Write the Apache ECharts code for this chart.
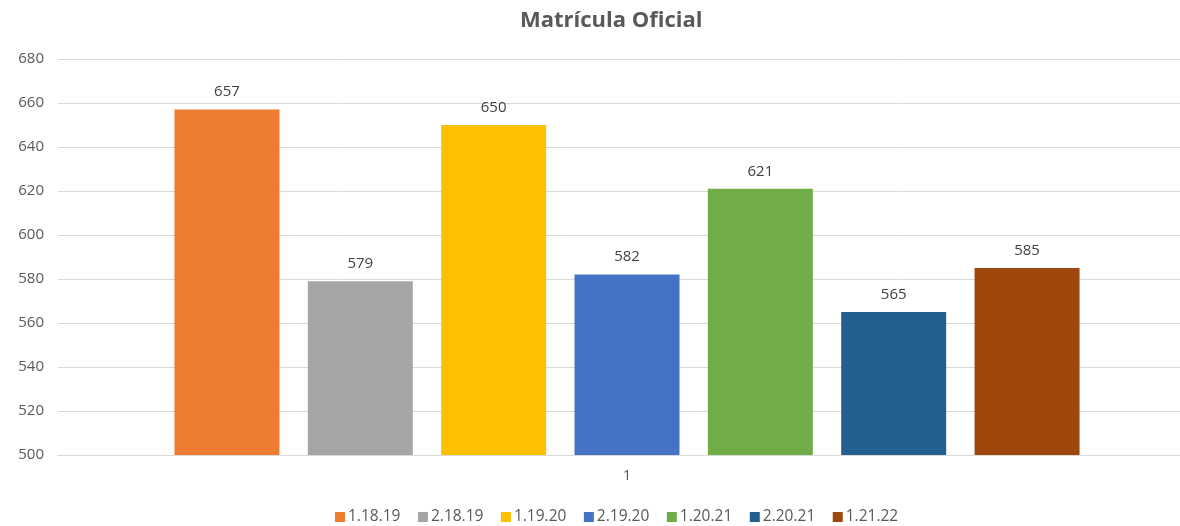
<!DOCTYPE html>
<html><head><meta charset="utf-8">
<script src="https://cdn.jsdelivr.net/npm/echarts@6/dist/echarts.min.js"></script>
<style>html,body{margin:0;padding:0;background:#fff}#c{width:1180px;height:526px}</style>
</head><body><div id="c"></div>
<script>
const title = 'Matrícula Oficial';
const categories = ['1'];
const seriesNames = ['1.18.19','2.18.19','1.19.20','2.19.20','1.20.21','2.20.21','1.21.22'];
const seriesValues = [657, 579, 650, 582, 621, 565, 585];
const colors = ['#ED7D31','#A5A5A5','#FFC000','#4472C4','#70AD47','#255E91','#9E480E'];
const yTicks = {min: 500, max: 680, interval: 20};
const font = '"Open Sans", "Noto Sans", sans-serif';

const chart = echarts.init(document.getElementById('c'));
chart.setOption({
  animation: false,
  title: {text: title, left: 515, top: 5,
    textStyle: {fontFamily: font, fontSize: 22, fontWeight: 'bold', color: '#595959'}},
  grid: [
    {left: 58, right: 0, top: 59, bottom: 71, containLabel: false},
    {left: 74, right: 0, top: 59, bottom: 71, containLabel: false}
  ],
  legend: {bottom: -4, left: 330, itemWidth: 10, itemHeight: 10, itemGap: 17.5, icon: 'rect',
    textStyle: {fontFamily: font, fontSize: 15.5, color: '#595959', padding: [0,0,0,-2]},
    data: seriesNames},
  xAxis: [
    {gridIndex: 0, type: 'category', data: categories, show: true,
      axisLine: {lineStyle: {color: '#D9D9D9', width: 1}}, axisTick: {show: false}, axisLabel: {show: false}},
    {gridIndex: 1, type: 'category', data: categories,
      axisLine: {show: false}, axisTick: {show: false},
      axisLabel: {fontFamily: font, fontSize: 15, color: '#595959', margin: 13}}
  ],
  yAxis: [
    {gridIndex: 0, type: 'value', min: yTicks.min, max: yTicks.max, interval: yTicks.interval,
      axisLine: {show: false}, axisTick: {show: false},
      axisLabel: {fontFamily: font, fontSize: 15, color: '#595959', margin: 14},
      splitLine: {lineStyle: {color: '#D9D9D9', width: 1}}},
    {gridIndex: 1, type: 'value', min: yTicks.min, max: yTicks.max, interval: yTicks.interval,
      axisLine: {show: false}, axisTick: {show: false}, axisLabel: {show: false}, splitLine: {show: false}}
  ],
  series: seriesNames.map((n, i) => ({
    name: n, type: 'bar', xAxisIndex: 1, yAxisIndex: 1,
    data: [seriesValues[i]], barWidth: 105, barGap: '27%',
    itemStyle: {color: colors[i]},
    label: {show: true, position: 'top', distance: 10, fontFamily: font, fontSize: 15, color: '#404040'}
  }))
});
</script></body></html>
